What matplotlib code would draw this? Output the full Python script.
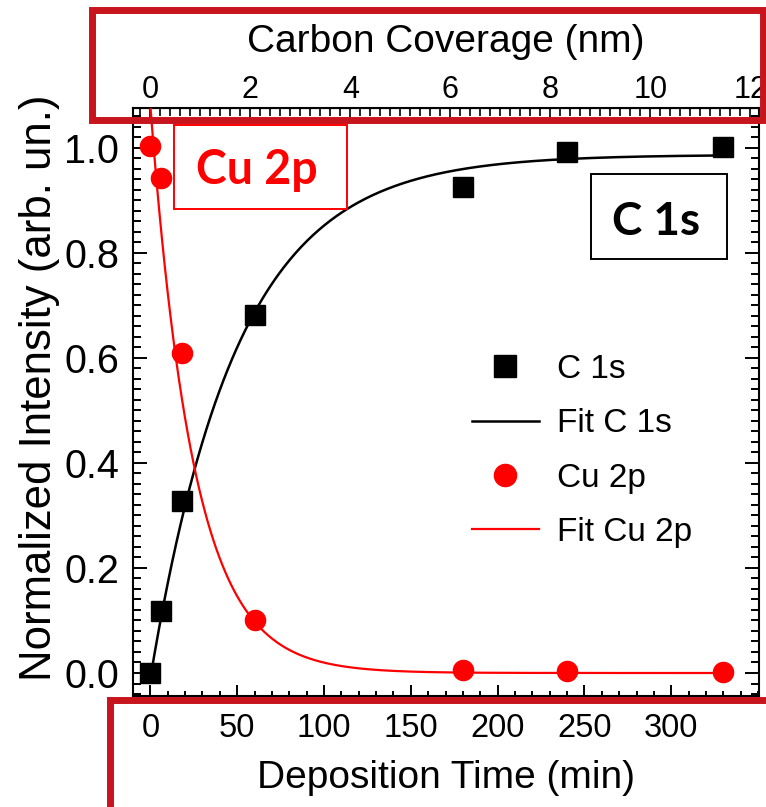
import numpy as np
import matplotlib
matplotlib.use("Agg")
import matplotlib.pyplot as plt
from matplotlib.patches import Rectangle
from matplotlib.ticker import MultipleLocator

plt.rcParams['font.family'] = ['Liberation Sans', 'DejaVu Sans']

# Deposition times (min) and normalized XPS intensities
time_min = [0, 6, 18, 60, 180, 240, 330]
c1s = [0.0, 0.118, 0.328, 0.682, 0.926, 0.992, 1.002]
cu2p = [1.003, 0.943, 0.61, 0.101, 0.006, 0.004, 0.001]

# Fit parameters: C 1s growth  y = A (1 - exp(-(t - t0)/tau))
c1s_amp, c1s_t0, c1s_tau = 0.987, 0.5, 50.0
# Cu 2p attenuation  y = A exp(-t/tau)
cu_amp, cu_tau = 1.08, 25.0

# Conversion from deposition time to carbon coverage
min_per_nm = 28.8

W, H = 766, 807
fig = plt.figure(figsize=(W / 100, H / 100), dpi=100)
ax = fig.add_axes([133 / W, 1 - 696 / H, (759 - 133) / W, (696 - 108) / H])

t_fit = np.linspace(0, 330, 400)
c1s_fit = c1s_amp * (1 - np.exp(-(t_fit - c1s_t0) / c1s_tau))
cu_fit = cu_amp * np.exp(-t_fit / cu_tau)

ax.plot(time_min, c1s, ls='none', marker='s', ms=14.5, color='black',
        label='C 1s', zorder=4)
ax.plot(t_fit, c1s_fit, color='black', lw=1.8, label='Fit C 1s', zorder=3)
ax.plot(time_min, cu2p, ls='none', marker='o', ms=14.5, color='#ff0000',
        label='Cu 2p', zorder=4)
ax.plot(t_fit, cu_fit, color='#ff0000', lw=1.6, label='Fit Cu 2p', zorder=3)

ax.set_xlim(-10, 350.5)
ax.set_ylim(-0.0438, 1.076)

ax.xaxis.set_major_locator(MultipleLocator(50))
ax.xaxis.set_minor_locator(MultipleLocator(10))
ax.set_xticks([0, 50, 100, 150, 200, 250, 300])
ax.yaxis.set_major_locator(MultipleLocator(0.2))
ax.yaxis.set_minor_locator(MultipleLocator(0.02))
ax.set_yticks([0.0, 0.2, 0.4, 0.6, 0.8, 1.0])
ax.set_yticklabels(['0.0', '0.2', '0.4', '0.6', '0.8', '1.0'])

ax.tick_params(axis='both', which='both', direction='in', width=1.4,
               top=False, right=True)
ax.tick_params(axis='x', which='major', length=8, pad=12, labelsize=23.5)
ax.tick_params(axis='x', which='minor', length=3.8)
ax.tick_params(axis='y', which='major', length=10, pad=10, labelsize=28.5)
ax.tick_params(axis='y', which='minor', length=5.5)
for s in ax.spines.values():
    s.set_linewidth(1.5)

ax.set_xlabel('Deposition Time (min)', fontsize=28, labelpad=12)
ax.set_ylabel('Normalized Intensity (arb. un.)', fontsize=31.5, labelpad=3)
ax.yaxis.label.set_y(0.524)

sec = ax.secondary_xaxis('top', functions=(lambda t: t / min_per_nm,
                                           lambda n: n * min_per_nm))
sec.set_xticks([0, 2, 4, 6, 8, 10, 12])
sec.xaxis.set_minor_locator(MultipleLocator(0.2))
sec.tick_params(axis='x', which='both', direction='in', width=1.2,
                labelsize=22, pad=2)
sec.tick_params(axis='x', which='major', length=7)
sec.tick_params(axis='x', which='minor', length=6)
sec.set_xlabel('Carbon Coverage (nm)', fontsize=28, labelpad=17)

leg = ax.legend(loc='upper left', bbox_to_anchor=(472 / W, 1 - 354 / H),
                bbox_transform=fig.transFigure, frameon=False, fontsize=24,
                handlelength=2.0, handletextpad=0.55, labelspacing=0.7,
                borderpad=0, borderaxespad=0, markerscale=1.1)

# Labelled boxes naming each core level
def label_box(x0, y0, x1, y1, text, color, tx, ty, size):
    fig.add_artist(Rectangle((x0 / W, 1 - y1 / H), (x1 - x0) / W, (y1 - y0) / H,
                             transform=fig.transFigure, fill=False,
                             edgecolor=color, lw=1.4, zorder=6))
    fig.text(tx / W, 1 - ty / H, text, color=color, fontsize=size,
             fontweight='bold', family=['Lato', 'DejaVu Sans'],
             ha='center', va='baseline', zorder=7)

label_box(174, 125, 347, 209, 'Cu 2p', '#ff0000', 257, 184, 33.5)
label_box(591, 174, 727, 259, 'C 1s', 'black', 656, 235, 33)

# Highlight frames around both axis scales
frame_color = '#c8141c'
fig.add_artist(Rectangle((91.5 / W, 1 - 120 / H), (763 - 91.5) / W, (120 - 9.5) / H,
                         transform=fig.transFigure, fill=False,
                         edgecolor=frame_color, lw=5, zorder=10))
fig.add_artist(Rectangle((109.5 / W, 1 - 830 / H), (790 - 109.5) / W, (830 - 700) / H,
                         transform=fig.transFigure, fill=False,
                         edgecolor=frame_color, lw=5, zorder=10))

fig.savefig('out.png', dpi=100)
